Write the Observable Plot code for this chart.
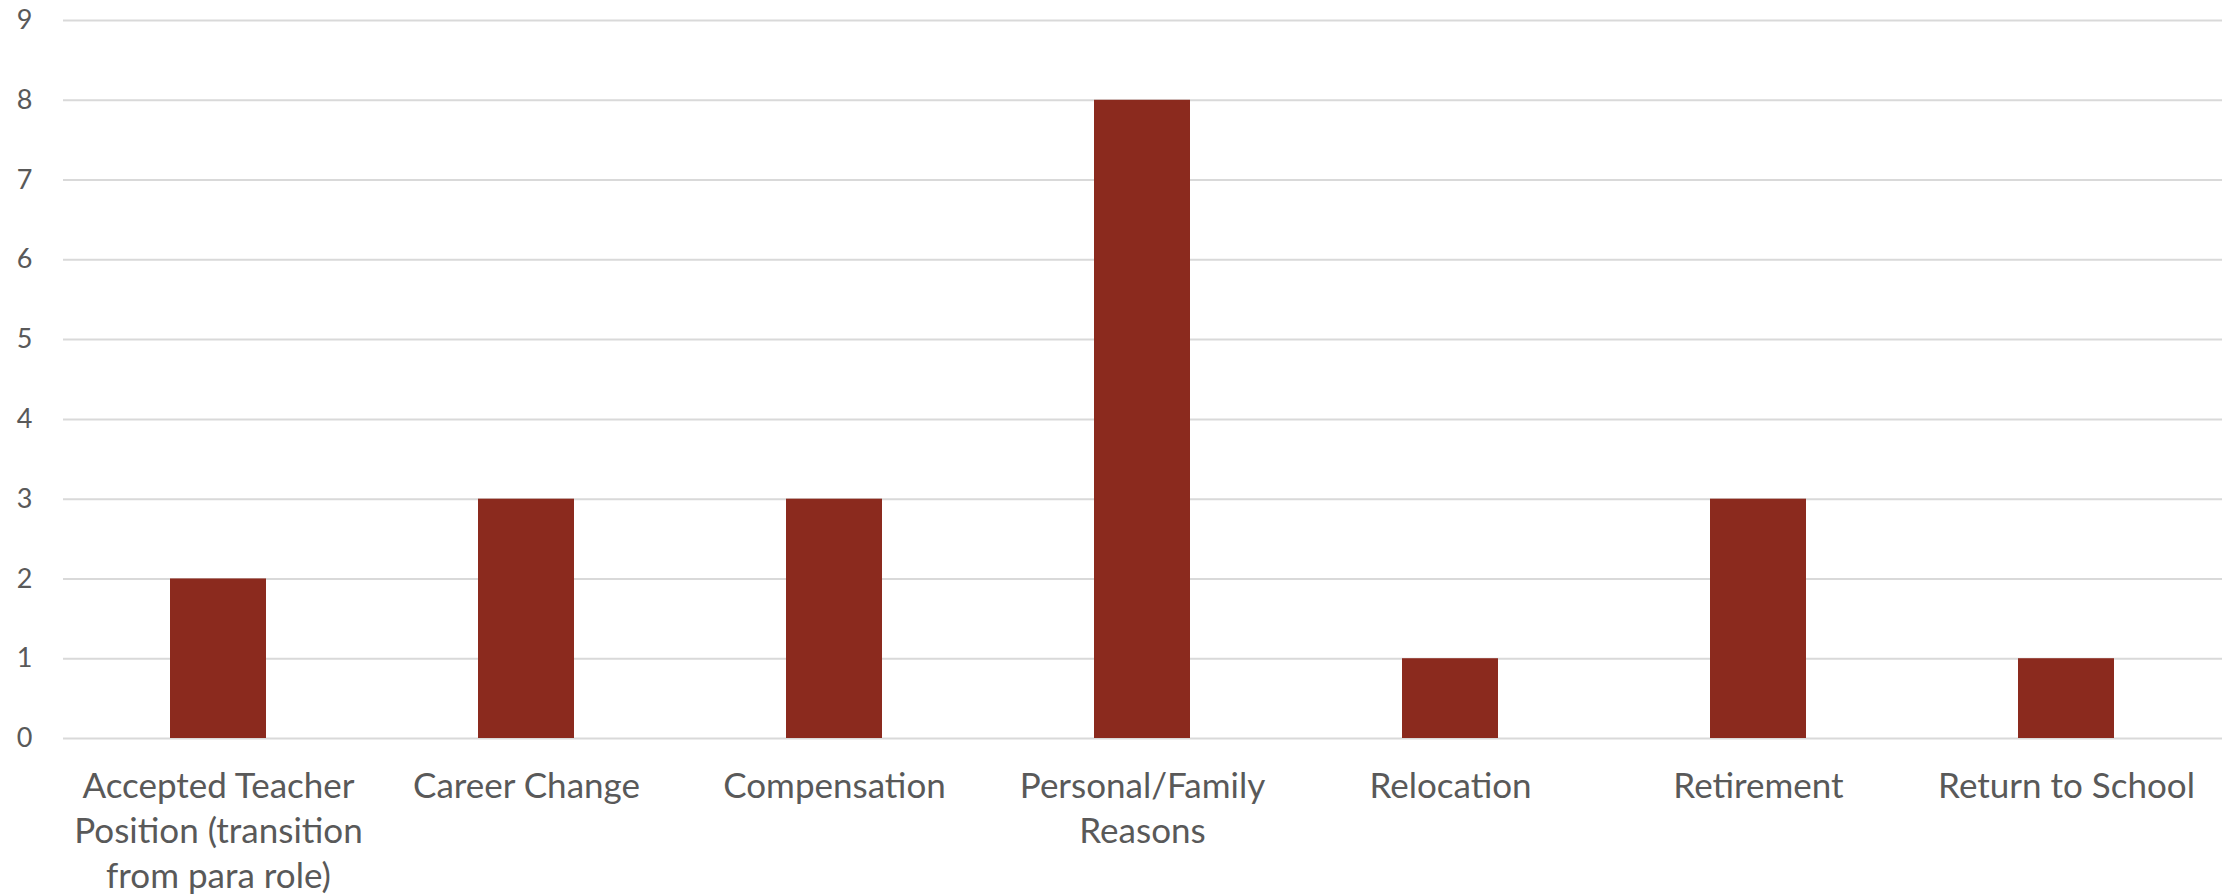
<!DOCTYPE html>
<html>
<head>
<meta charset="utf-8">
<script src="https://cdn.jsdelivr.net/npm/d3@7"></script>
<script src="https://cdn.jsdelivr.net/npm/@observablehq/plot@0.6"></script>
<style>
  html, body { margin: 0; padding: 0; background: #ffffff; }
  #chart svg { display: block; }
</style>
</head>
<body>
<div id="chart"></div>
<script>
const categories = [
  "Accepted Teacher Position (transition from para role)",
  "Career Change",
  "Compensation",
  "Personal/Family Reasons",
  "Relocation",
  "Retirement",
  "Return to School"
];
const tickLabels = [
  "Accepted Teacher\nPosition (transition\nfrom para role)",
  "Career Change",
  "Compensation",
  "Personal/Family\nReasons",
  "Relocation",
  "Retirement",
  "Return to School"
];
const counts = [2, 3, 3, 8, 1, 3, 1];
const yTicks = [0, 1, 2, 3, 4, 5, 6, 7, 8, 9];

const data = categories.map((c, i) => ({category: c, count: counts[i]}));
const labelOf = new Map(categories.map((c, i) => [c, tickLabels[i]]));

const chart = Plot.plot({
  width: 2229,
  height: 894,
  marginLeft: 63,
  marginRight: 7,
  marginTop: 20,
  marginBottom: 156,
  style: {fontFamily: "Lato, sans-serif", background: "#ffffff"},
  x: {domain: categories, paddingInner: 0.688, paddingOuter: 0.344},
  y: {domain: [0, 9]},
  marks: [
    Plot.gridY(yTicks, {stroke: "#d9d9d9", strokeOpacity: 1, strokeWidth: 2}),
    Plot.barY(data, {x: "category", y: "count", fill: "#8b2a1e"}),
    Plot.axisY(yTicks, {tickSize: 0, tickPadding: 31, fontSize: 27, fill: "#595959", label: null,
      tickFormat: d => String(d)}),
    Plot.axisX({tickSize: 0, tickPadding: 27, fontSize: 35, lineHeight: 1.29, fill: "#595959", label: null,
      tickFormat: d => labelOf.get(d)})
  ]
});
document.getElementById("chart").append(chart);
</script>
</body>
</html>
